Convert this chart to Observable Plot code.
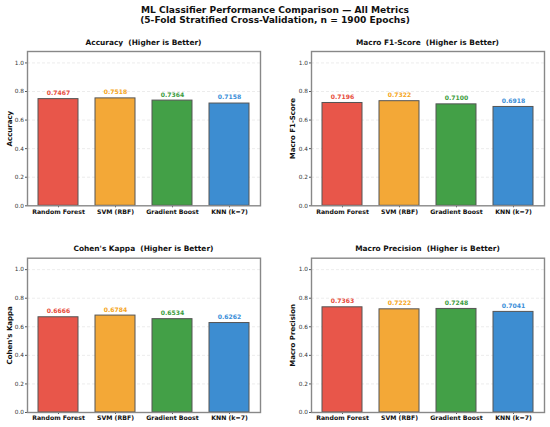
<!DOCTYPE html>
<html>
<head>
<meta charset="utf-8">
<script src="https://cdn.jsdelivr.net/npm/d3@7"></script>
<script src="https://cdn.jsdelivr.net/npm/@observablehq/plot@0.6"></script>
<style>
  html, body { margin: 0; padding: 0; background: #fff; }
  #root { position: relative; width: 550px; height: 427px; font-family: "DejaVu Sans", sans-serif; overflow: hidden; }
  .main-title { position: absolute; left: 0; width: 550px; top: 4.5px; text-align: center; font-weight: bold; font-size: 9.1px; line-height: 10px; color: #111; }
  .panel-title { position: absolute; width: 233px; text-align: center; font-weight: bold; font-size: 7.4px; line-height: 8px; color: #111; white-space: pre; }
  .panel { position: absolute; }
</style>
</head>
<body>
<div id="root">
  <div class="main-title">ML Classifier Performance Comparison — All Metrics<br>(5-Fold Stratified Cross-Validation, n = 1900 Epochs)</div>
</div>
<script>
const models = ["Random Forest", "SVM (RBF)", "Gradient Boost", "KNN (k=7)"];
const accuracy = [0.7467, 0.7518, 0.7364, 0.7158];
const f1Score = [0.7196, 0.7322, 0.7100, 0.6918];
const kappa = [0.6666, 0.6784, 0.6534, 0.6262];
const precision = [0.7363, 0.7222, 0.7248, 0.7041];
const fillColors = ["#e8564a", "#f3a837", "#43a047", "#3d8dd1"];
const textColors = ["#e74c3c", "#f5a623", "#3c9c40", "#3a8ed8"];
const yTicks = [0, 0.2, 0.4, 0.6, 0.8, 1.0];

const panels = [
  {title: "Accuracy  (Higher is Better)", ylabel: "Accuracy", values: accuracy, left: 0, top: 40, ml: 27, mr: 15, mt: 11},
  {title: "Macro F1-Score  (Higher is Better)", ylabel: "Macro F1-Score", values: f1Score, left: 275, top: 40, ml: 36, mr: 6, mt: 11},
  {title: "Cohen's Kappa  (Higher is Better)", ylabel: "Cohen's Kappa", values: kappa, left: 0, top: 246, ml: 27, mr: 15, mt: 11.7},
  {title: "Macro Precision  (Higher is Better)", ylabel: "Macro Precision", values: precision, left: 275, top: 246, ml: 36, mr: 6, mt: 11.7}
];

const root = document.getElementById("root");

for (const p of panels) {
  const data = models.map((m, i) => ({model: m, value: p.values[i], fill: fillColors[i], tc: textColors[i], label: p.values[i].toFixed(4)}));
  const frameH = 154.3;
  const mb = 16;
  const chart = Plot.plot({
    width: 275,
    height: p.mt + frameH + mb,
    marginLeft: p.ml,
    marginRight: p.mr,
    marginTop: p.mt,
    marginBottom: mb,
    style: {fontFamily: "DejaVu Sans, sans-serif", background: "transparent", overflow: "visible"},
    x: {domain: models, paddingInner: 0.3, paddingOuter: 0.185, label: null},
    y: {domain: [0, 1.08], label: null},
    marks: [
      Plot.ruleY(yTicks.slice(1), {stroke: "#e4e4e4", strokeWidth: 0.7, strokeDasharray: "3,2"}),
      Plot.barY(data, {x: "model", y: "value", fill: "fill", stroke: "#555", strokeWidth: 1}),
      Plot.text(data, {x: "model", y: "value", text: "label", fill: "tc", fontWeight: "bold", fontSize: 6.1, lineAnchor: "middle", dy: -6}),
      Plot.axisY({ticks: yTicks, tickFormat: d3.format(".1f"), tickSize: 2, tickPadding: 1.5, fontSize: 5.8, fill: "#333", stroke: "#555", label: null}),
      Plot.axisX({tickSize: 2, tickPadding: 1.5, fontSize: 6.2, fontWeight: "bold", fill: "#111", stroke: "#555", label: null}),
      Plot.text([p.ylabel], {frameAnchor: "left", textAnchor: "middle", lineAnchor: "middle", rotate: -90, dx: p.ml === 27 ? -18 : -19, fontWeight: "bold", fontSize: 7, fill: "#111"}),
      Plot.frame({stroke: "#888", strokeWidth: 1.4})
    ]
  });
  chart.classList.add("panel");
  chart.style.left = p.left + "px";
  chart.style.top = p.top + "px";
  root.appendChild(chart);

  const t = document.createElement("div");
  t.className = "panel-title";
  t.textContent = p.title;
  t.style.left = (p.left + p.ml) + "px";
  t.style.top = (p.top - 1) + "px";
  root.appendChild(t);
}
</script>
</body>
</html>
